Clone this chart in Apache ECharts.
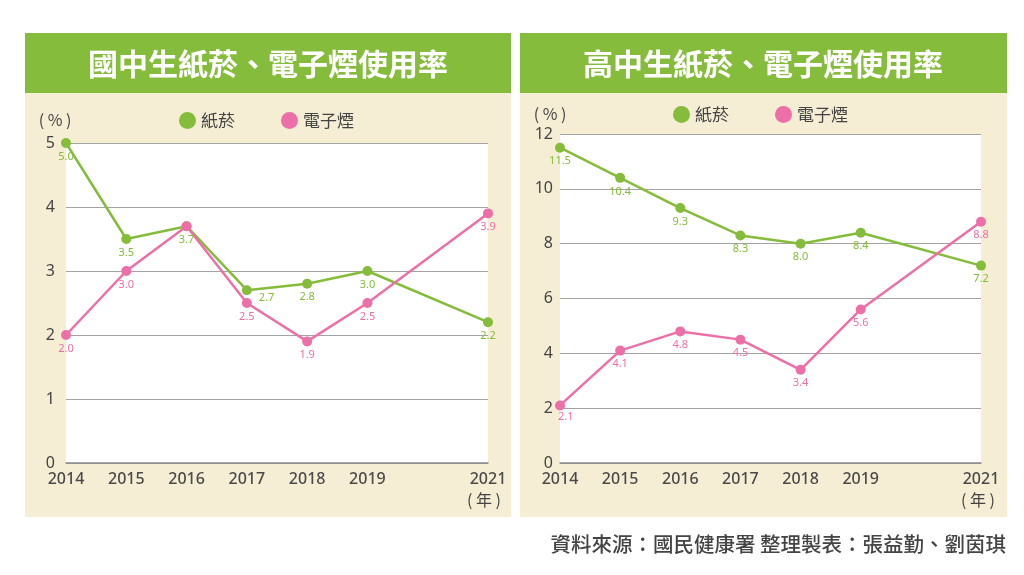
<!DOCTYPE html>
<html>
<head>
<meta charset="utf-8">
<script src="https://cdn.jsdelivr.net/npm/echarts@6/dist/echarts.min.js"></script>
<style>
  html, body { margin: 0; padding: 0; background: #fff; }
  #chart { width: 1024px; height: 575px; }
</style>
</head>
<body>
<div id="chart"></div>
<script>
// years on the x axis (2020 has no survey, keeps its gap)
const years = [2014, 2015, 2016, 2017, 2018, 2019, 2021]

// 國中生
const juniorCig = [5.0, 3.5, 3.7, 2.7, 2.8, 3.0, 2.2]
const juniorEcig = [2.0, 3.0, 3.7, 2.5, 1.9, 2.5, 3.9]

// 高中生
const seniorCig = [11.5, 10.4, 9.3, 8.3, 8.0, 8.4, 7.2]
const seniorEcig = [2.1, 4.1, 4.8, 4.5, 3.4, 5.6, 8.8]

const GREEN = '#85bc3c'
const PINK = '#ec6fa8'
const CREAM = '#f5eed4'
const FONT = '"Noto Sans CJK TC", "Noto Sans", sans-serif'
const NUM_FONT = '"Noto Sans", "Noto Sans CJK TC", sans-serif'

const chart = echarts.init(document.getElementById('chart'))

const toPoints = (vals, overrides) =>
  years.map((y, i) => {
    const p = { value: [y, vals[i]] }
    if (overrides && overrides[i]) p.label = overrides[i]
    return p
  })

const xAxisBase = (gridIndex) => ({
  type: 'value',
  gridIndex,
  min: 2014,
  max: 2021,
  interval: 1,
  axisLine: { show: true, lineStyle: { color: '#8a8a8a', width: 1.5 } },
  axisTick: { show: false },
  splitLine: { show: false },
  axisLabel: {
    color: '#4a4a4a',
    fontSize: 16,
    fontWeight: 500,
    fontFamily: NUM_FONT,
    margin: 8,
    formatter: (v) => (v === 2020 ? '' : String(v))
  }
})

const yAxisBase = (gridIndex, max, interval, margin) => ({
  type: 'value',
  gridIndex,
  min: 0,
  max,
  interval,
  axisLine: { show: false },
  axisTick: { show: false },
  splitLine: { lineStyle: { color: '#a3a3a3', width: 1 } },
  axisLabel: { color: '#444', fontSize: 16, fontFamily: NUM_FONT, margin }
})

const lineSeries = (name, color, xi, data) => ({
  name,
  type: 'line',
  xAxisIndex: xi,
  yAxisIndex: xi,
  data,
  symbol: 'circle',
  symbolSize: 10,
  lineStyle: { color, width: 2.5 },
  itemStyle: { color },
  label: {
    show: true,
    position: 'bottom',
    distance: 3,
    color,
    fontSize: 11,
    fontFamily: NUM_FONT,
    formatter: (p) => p.value[1].toFixed(1)
  },
  z: 3
})

const legendBase = (left, top) => ({
  left,
  top,
  icon: 'circle',
  itemWidth: 17,
  itemHeight: 17,
  itemGap: 46,
  textStyle: { color: '#444', fontSize: 17, fontFamily: FONT },
  data: ['紙菸', '電子煙']
})

const option = {
  backgroundColor: '#fff',
  animation: false,
  graphic: [
    // panels
    { type: 'rect', shape: { x: 25, y: 33, width: 486, height: 484 }, style: { fill: CREAM }, z: -10 },
    { type: 'rect', shape: { x: 25, y: 33, width: 486, height: 60 }, style: { fill: GREEN }, z: -9 },
    { type: 'rect', shape: { x: 520, y: 33, width: 487, height: 484 }, style: { fill: CREAM }, z: -10 },
    { type: 'rect', shape: { x: 520, y: 33, width: 487, height: 60 }, style: { fill: GREEN }, z: -9 },
    // titles
    { type: 'text', x: 268, y: 64, style: { text: '國中生紙菸、電子煙使用率', fill: '#fff', font: 'bold 30px ' + FONT, textAlign: 'center', textVerticalAlign: 'middle' } },
    { type: 'text', x: 763, y: 64, style: { text: '高中生紙菸、電子煙使用率', fill: '#fff', font: 'bold 30px ' + FONT, textAlign: 'center', textVerticalAlign: 'middle' } },
    // units
    { type: 'text', x: 55, y: 120, style: { text: '( % )', fill: '#444', font: '16px ' + FONT, textAlign: 'center', textVerticalAlign: 'middle' } },
    { type: 'text', x: 550, y: 114, style: { text: '( % )', fill: '#444', font: '16px ' + FONT, textAlign: 'center', textVerticalAlign: 'middle' } },
    { type: 'text', x: 484, y: 500, style: { text: '( 年 )', fill: '#444', font: '16px ' + FONT, textAlign: 'center', textVerticalAlign: 'middle' } },
    { type: 'text', x: 978, y: 500, style: { text: '( 年 )', fill: '#444', font: '16px ' + FONT, textAlign: 'center', textVerticalAlign: 'middle' } },
    // source
    { type: 'text', x: 1006, y: 544, style: { text: '資料來源：國民健康署 整理製表：張益勤、劉茵琪', fill: '#444', font: '500 20.5px ' + FONT, textAlign: 'right', textVerticalAlign: 'middle' } }
  ],
  legend: [legendBase(174, 107), legendBase(668, 101)],
  grid: [
    { left: 66, top: 143, width: 422, height: 320, show: true, backgroundColor: '#fff', borderWidth: 0 },
    { left: 560, top: 134, width: 421, height: 329, show: true, backgroundColor: '#fff', borderWidth: 0 }
  ],
  xAxis: [xAxisBase(0), xAxisBase(1)],
  yAxis: [yAxisBase(0, 5, 1, 11), yAxisBase(1, 12, 2, 7)],
  series: [
    lineSeries('紙菸', GREEN, 0, toPoints(juniorCig, { 3: { position: [17, 7] } })),
    lineSeries('電子煙', PINK, 0, toPoints(juniorEcig, { 2: { show: false } })),
    lineSeries('紙菸', GREEN, 1, toPoints(seniorCig)),
    lineSeries('電子煙', PINK, 1, toPoints(seniorEcig, { 0: { position: [3, 11] } }))
  ]
}

chart.setOption(option)
</script>
</body>
</html>
